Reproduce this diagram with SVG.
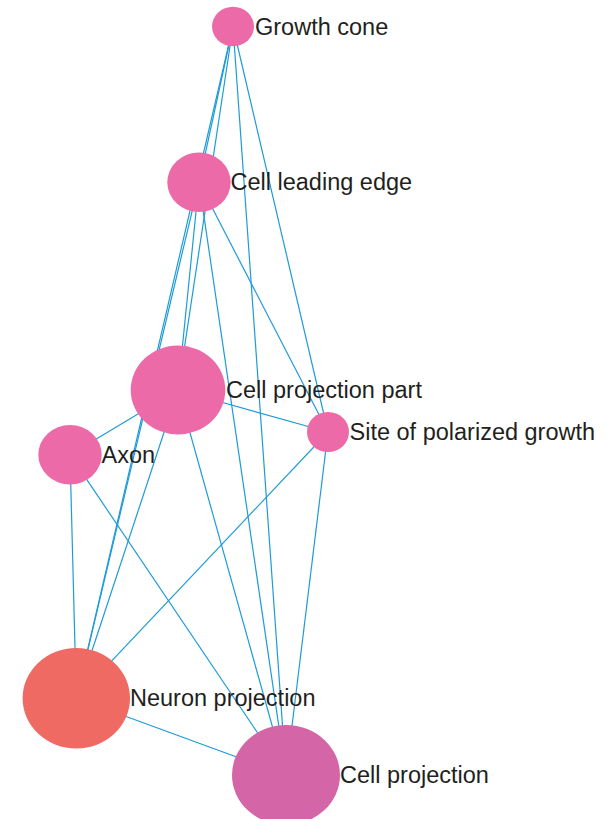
<svg xmlns="http://www.w3.org/2000/svg" width="613" height="819" viewBox="0 0 613 819">
<style>
.e{stroke:#1e9bd7;stroke-width:1.2;fill:none}
.n{fill:#ec6aa8}
.lbl{font-family:"Liberation Sans",Arial,sans-serif;font-size:23.5px;fill:#231f20}
</style>
<rect width="613" height="819" fill="#ffffff"/>
<g id="edges">
<line class="e" x1="233" y1="26.5" x2="199" y2="182.3"/>
<line class="e" x1="233" y1="26.5" x2="178" y2="390"/>
<line class="e" x1="233" y1="26.5" x2="76.3" y2="698.3"/>
<line class="e" x1="233" y1="26.5" x2="328" y2="432"/>
<line class="e" x1="233" y1="26.5" x2="286" y2="775"/>
<line class="e" x1="199" y1="182.3" x2="178" y2="390"/>
<line class="e" x1="199" y1="182.3" x2="76.3" y2="698.3"/>
<line class="e" x1="199" y1="182.3" x2="328" y2="432"/>
<line class="e" x1="199" y1="182.3" x2="286" y2="775"/>
<line class="e" x1="178" y1="390" x2="328" y2="432"/>
<line class="e" x1="178" y1="390" x2="70" y2="454.7"/>
<line class="e" x1="178" y1="390" x2="76.3" y2="698.3"/>
<line class="e" x1="178" y1="390" x2="286" y2="775"/>
<line class="e" x1="70" y1="454.7" x2="76.3" y2="698.3"/>
<line class="e" x1="70" y1="454.7" x2="286" y2="775"/>
<line class="e" x1="328" y1="432" x2="76.3" y2="698.3"/>
<line class="e" x1="328" y1="432" x2="286" y2="775"/>
<line class="e" x1="76.3" y1="698.3" x2="286" y2="775"/>
</g>
<g id="growth-cone">
<ellipse class="n" cx="233" cy="26.5" rx="21" ry="19.7"/>
<text class="lbl" x="255" y="34.5">Growth cone</text>
</g>
<g id="cell-leading-edge">
<ellipse class="n" cx="199" cy="182.3" rx="31.7" ry="29.7"/>
<text class="lbl" x="230.5" y="190.3">Cell leading edge</text>
</g>
<g id="cell-projection-part">
<ellipse class="n" cx="178" cy="390" rx="47.3" ry="44.5"/>
<text class="lbl" x="226" y="397.8">Cell projection part</text>
</g>
<g id="site-of-polarized-growth">
<ellipse class="n" cx="328" cy="432" rx="21" ry="20"/>
<text class="lbl" x="349.5" y="439.8">Site of polarized growth</text>
</g>
<g id="axon">
<ellipse class="n" cx="70" cy="454.7" rx="31.7" ry="29.7"/>
<text class="lbl" x="101.5" y="462.6">Axon</text>
</g>
<g id="neuron-projection">
<ellipse cx="76.3" cy="698.3" rx="53.7" ry="50.3" fill="#ef6a62"/>
<text class="lbl" x="130" y="706.3">Neuron projection</text>
</g>
<g id="cell-projection">
<ellipse cx="286" cy="775" rx="54" ry="50" fill="#d466a8"/>
<text class="lbl" x="340" y="783">Cell projection</text>
</g>
</svg>
